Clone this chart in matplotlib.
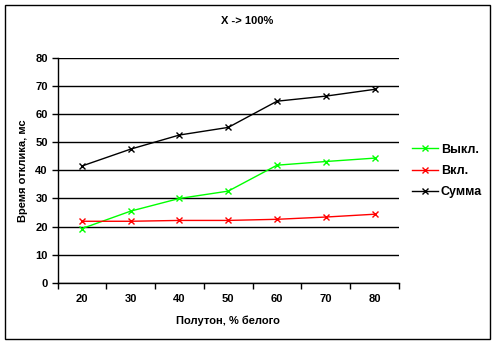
import matplotlib
matplotlib.use("Agg")
import matplotlib.pyplot as plt
import numpy as np
from matplotlib.patches import Rectangle

plt.rcParams["font.family"] = ["Liberation Sans", "DejaVu Sans"]
plt.rcParams["font.weight"] = "bold"

# data
categories = ["20", "30", "40", "50", "60", "70", "80"]
vykl = [19.3, 25.5, 30.0, 32.6, 41.8, 43.1, 44.3]
vkl = [21.9, 21.9, 22.2, 22.2, 22.6, 23.4, 24.4]
summa = [41.5, 47.5, 52.5, 55.2, 64.5, 66.3, 68.7]

W, H = 495, 344
fig = plt.figure(figsize=(W / 100, H / 100), dpi=100)
ax = fig.add_axes([57.5 / W, 1 - 283 / H, (399 - 57.5) / W, (283 - 57.5) / H])

x = np.arange(len(categories))
ax.plot(x, vykl, color="#00ff00", lw=1, marker="x", ms=4, mew=1, label="Выкл.")
ax.plot(x, vkl, color="#ff0000", lw=1, marker="x", ms=4, mew=1, label="Вкл.")
ax.plot(x, summa, color="black", lw=1, marker="x", ms=4, mew=1, label="Сумма")

ax.set_xlim(-0.5, len(categories) - 0.5)
ax.set_ylim(0, 80)
ax.set_yticks(np.arange(0, 81, 10))
ax.yaxis.grid(True, color="black", lw=1)
ax.set_axisbelow(True)

# category axis: labels in the middle, tick marks between categories
ax.set_xticks(x)
ax.set_xticklabels(categories)
ax.set_xticks(np.arange(-0.5, len(categories)), minor=True)
ax.tick_params(axis="x", which="major", length=0, pad=8, labelsize=8)
ax.tick_params(axis="x", which="minor", length=4, direction="out", width=1)
ax.tick_params(axis="y", length=4, direction="out", width=1, labelsize=8, pad=3)

for s in ["top", "right"]:
    ax.spines[s].set_visible(False)
for s in ["left", "bottom"]:
    ax.spines[s].set_linewidth(1)

ax.set_ylabel("Время отклика, мс", fontsize=8, fontweight="bold", labelpad=5)
ax.set_xlabel("Полутон, % белого", fontsize=8, fontweight="bold", labelpad=8)
fig.text(247 / W, 1 - 21 / H, "X -> 100%", ha="center", va="center",
         fontsize=8, fontweight="bold")

leg = fig.legend(*ax.get_legend_handles_labels(), loc="center left",
                 bbox_to_anchor=(412 / W, 1 - 171 / H), frameon=False,
                 handlelength=2.1, handletextpad=0.2, labelspacing=0.75,
                 borderpad=0, borderaxespad=0,
                 prop={"weight": "bold", "size": 9})

# chart area border
fig.add_artist(Rectangle((5 / W, 1 - 339 / H), 485 / W, 334 / H,
                         transform=fig.transFigure, fill=False, ec="black", lw=1))

fig.savefig("out.png", dpi=100)
